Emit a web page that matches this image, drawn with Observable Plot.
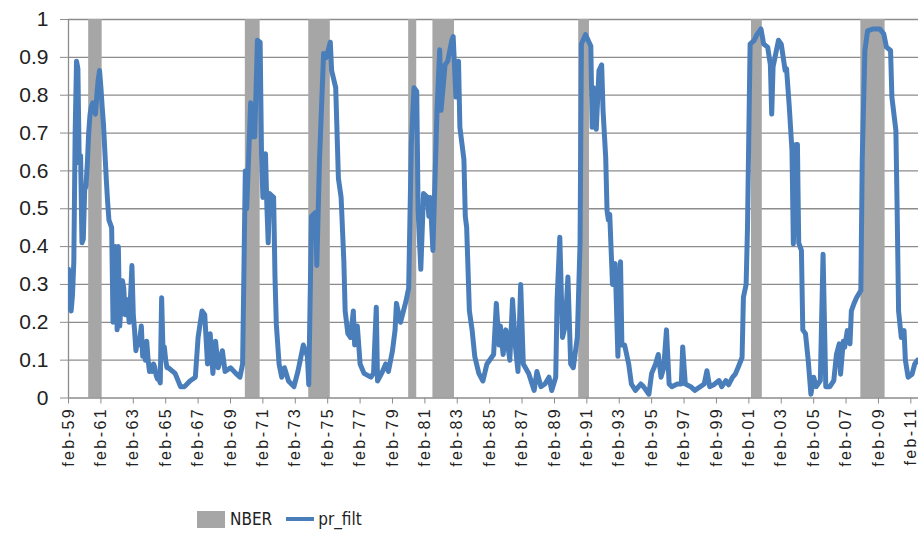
<!DOCTYPE html>
<html>
<head>
<meta charset="utf-8">
<script src="https://cdn.jsdelivr.net/npm/d3@7"></script>
<script src="https://cdn.jsdelivr.net/npm/@observablehq/plot@0.6"></script>
<style>
  body { margin: 0; background: #fff; }
  #wrap { position: relative; width: 918px; height: 538px; overflow: hidden; background: #fff;
          font-family: "Liberation Sans", Arial, sans-serif; color: #222; }
  #chart svg g[aria-label="x-axis tick label"] text { letter-spacing: 2.4px; }
  .legend { position: absolute; top: 509px; left: 197px; display: flex; align-items: center;
            font-size: 17px; font-family: "Liberation Sans Narrow", "DejaVu Sans Condensed", "Liberation Sans", sans-serif; color: #222; }
  .sw-bar { width: 28px; height: 17px; background: #a6a6a6; }
  .sw-line { width: 28px; height: 4px; background: #4a7ebb; margin-left: 14px; }
</style>
</head>
<body>
<div id="wrap">
  <div id="chart"></div>
  <div class="legend">
    <div class="sw-bar"></div><span style="margin-left:5px">NBER</span>
    <div class="sw-line"></div><span style="margin-left:4px">pr_filt</span>
  </div>
</div>
<script>
// pr_filt (monthly, values)
const prDates = [
"1959-02","1959-03","1959-04","1959-05","1959-06","1959-07","1959-08","1959-09","1959-10","1959-11","1959-12",
"1960-01","1960-02","1960-03","1960-04","1960-05","1960-06","1960-07","1960-08","1960-09","1960-10","1960-11","1960-12",
"1961-01","1961-02","1961-03","1961-04","1961-05","1961-06","1961-07","1961-08","1961-09","1961-10","1961-11","1961-12",
"1962-01","1962-02","1962-03","1962-04","1962-05","1962-06","1962-07","1962-08","1962-09","1962-10","1962-11","1962-12",
"1963-01","1963-02","1963-03","1963-04","1963-05","1963-06","1963-07","1963-08","1963-09","1963-10","1963-11","1963-12",
"1964-01","1964-02","1964-03","1964-04","1964-05","1964-06","1964-07","1964-08","1964-09","1964-10","1964-11","1964-12",
"1965-01","1965-02","1965-03","1965-04","1965-09","1966-01","1966-04","1966-08","1966-12",
"1967-02","1967-05","1967-07","1967-09","1967-11","1968-01","1968-03","1968-05","1968-08","1968-10",
"1969-02","1969-06","1969-09","1969-11","1970-01","1970-02","1970-05","1970-06","1970-08","1970-10","1970-12",
"1971-01","1971-02","1971-04","1971-05","1971-06","1971-07","1971-10","1971-11","1971-12",
"1972-02","1972-04","1972-06","1972-09","1973-01","1973-04","1973-08","1973-11","1973-12",
"1974-02","1974-05","1974-06","1974-08","1974-11","1975-01","1975-04","1975-05","1975-08","1975-10","1975-12",
"1976-02","1976-03","1976-05","1976-07","1976-09","1976-10","1976-12","1977-02","1977-05","1977-10","1977-12",
"1978-02","1978-03","1978-06","1978-09","1978-11","1979-02","1979-04","1979-05","1979-08","1979-12",
"1980-02","1980-04","1980-06","1980-08","1980-09","1980-11","1981-01","1981-04","1981-05","1981-06","1981-08","1981-11",
"1982-01","1982-02","1982-05","1982-07","1982-10","1982-11","1983-01","1983-03","1983-04","1983-07","1983-08","1983-09","1983-11",
"1984-01","1984-03","1984-06","1984-09","1984-12","1985-05","1985-07","1985-09","1985-10","1985-12",
"1986-02","1986-05","1986-07","1986-09","1986-11","1987-01","1987-03","1987-07","1987-11",
"1988-01","1988-04","1988-07","1988-10","1988-12","1989-03","1989-04","1989-06","1989-08","1989-10","1989-12",
"1990-02","1990-04","1990-07","1990-09","1990-10","1991-01","1991-05","1991-06","1991-07","1991-09","1991-11",
"1992-01","1992-02","1992-04","1992-05","1992-06","1992-07","1992-09","1992-11","1993-01","1993-03","1993-04","1993-06","1993-09","1993-11",
"1994-02","1994-06","1994-08","1994-12","1995-02","1995-05","1995-07","1995-09","1995-11",
"1996-01","1996-03","1996-05","1996-09","1996-12","1997-01","1997-03","1997-07","1997-10",
"1998-05","1998-07","1998-09","1998-12","1999-04","1999-06","1999-09","1999-11",
"2000-02","2000-04","2000-06","2000-09","2000-10","2000-12","2001-01","2001-03","2001-06","2001-08","2001-11",
"2002-01","2002-04","2002-06","2002-07","2002-08","2002-10","2002-12","2003-02","2003-05","2003-06","2003-08","2003-10","2003-11",
"2004-01","2004-02","2004-03","2004-05","2004-06","2004-08","2004-10","2004-12","2005-02","2005-04","2005-07","2005-09","2005-11",
"2006-02","2006-05","2006-07","2006-09","2006-10","2006-12","2007-01","2007-03","2007-05","2007-06","2007-08","2007-10",
"2008-01","2008-02","2008-04","2008-06","2008-10","2009-03","2009-06","2009-08","2009-11","2009-12",
"2010-03","2010-04","2010-05","2010-07","2010-09","2010-10","2010-12","2011-03","2011-05","2011-07"
];
const prValues = [
0.34,0.24,0.23,0.27,0.36,0.70,0.89,0.87,0.62,0.64,0.41,
0.42,0.55,0.56,0.62,0.70,0.75,0.77,0.78,0.76,0.75,0.80,0.84,
0.865,0.82,0.77,0.72,0.65,0.58,0.52,0.47,0.46,0.45,0.20,0.38,
0.40,0.18,0.40,0.19,0.25,0.31,0.29,0.22,0.26,0.24,0.20,0.27,
0.35,0.22,0.18,0.125,0.15,0.14,0.16,0.19,0.11,0.13,0.10,0.15,
0.10,0.07,0.08,0.07,0.09,0.08,0.06,0.05,0.05,0.04,0.265,0.13,
0.135,0.10,0.08,0.08,0.065,0.03,0.03,0.045,0.055,
0.16,0.23,0.22,0.09,0.17,0.065,0.15,0.08,0.125,0.07,
0.08,0.065,0.055,0.09,0.60,0.50,0.78,0.69,0.69,0.945,0.94,
0.645,0.53,0.645,0.51,0.41,0.54,0.53,0.32,0.195,
0.09,0.055,0.08,0.045,0.03,0.07,0.14,0.11,0.035,
0.48,0.49,0.35,0.63,0.91,0.90,0.94,0.865,0.82,0.58,0.53,
0.36,0.23,0.17,0.16,0.23,0.14,0.19,0.09,0.065,0.055,0.065,
0.24,0.045,0.065,0.09,0.07,0.125,0.18,0.25,0.20,0.255,
0.29,0.67,0.82,0.81,0.495,0.34,0.54,0.53,0.48,0.53,0.39,0.76,
0.92,0.76,0.88,0.89,0.945,0.955,0.795,0.89,0.715,0.63,0.48,0.45,0.23,
0.18,0.11,0.065,0.045,0.09,0.115,0.25,0.14,0.19,0.115,
0.18,0.10,0.26,0.14,0.07,0.30,0.09,0.065,0.02,
0.07,0.03,0.037,0.055,0.02,0.055,0.26,0.425,0.16,0.19,0.32,
0.09,0.08,0.16,0.41,0.935,0.96,0.93,0.715,0.82,0.71,0.865,
0.88,0.76,0.635,0.495,0.47,0.485,0.30,0.355,0.11,0.36,0.14,0.14,0.09,0.037,
0.02,0.037,0.03,0.01,0.065,0.09,0.115,0.055,0.08,
0.18,0.037,0.03,0.037,0.037,0.135,0.037,0.03,0.02,
0.037,0.072,0.03,0.035,0.046,0.03,0.046,0.035,
0.055,0.063,0.08,0.107,0.266,0.30,0.45,0.935,0.945,0.96,0.975,
0.935,0.927,0.88,0.75,0.875,0.91,0.945,0.935,0.865,0.87,0.77,0.654,0.407,
0.67,0.67,0.41,0.39,0.18,0.17,0.10,0.01,0.055,0.03,0.046,0.38,0.03,
0.03,0.046,0.116,0.143,0.063,0.15,0.134,0.178,0.143,0.23,0.25,0.266,
0.284,0.627,0.918,0.97,0.975,0.975,0.962,0.927,0.918,0.795,
0.707,0.478,0.23,0.16,0.178,0.10,0.055,0.063,0.09,0.10
];

// NBER recession months (first and last month in recession)
const nberStart = ["1960-05","1970-01","1973-12","1980-02","1981-08","1990-08","2001-04","2008-01"];
const nberEnd   = ["1961-02","1970-11","1975-03","1980-07","1982-11","1991-03","2001-11","2009-06"];

// axes
const yTicks = [0, 0.1, 0.2, 0.3, 0.4, 0.5, 0.6, 0.7, 0.8, 0.9, 1];
const xTickYears = [1959,1961,1963,1965,1967,1969,1971,1973,1975,1977,1979,1981,1983,1985,
                    1987,1989,1991,1993,1995,1997,1999,2001,2003,2005,2007,2009,2011];

const parseM = d3.utcParse("%Y-%m");
const series = prDates.map((d, i) => ({date: parseM(d), value: prValues[i]}));
const recessions = nberStart.map((s, i) => ({start: parseM(s), end: d3.utcMonth.offset(parseM(nberEnd[i]), 1)}));
const xTicks = xTickYears.map(y => new Date(Date.UTC(y, 1, 1)));
const xStart = new Date(Date.UTC(1959, 1, 1));
const xEnd = new Date(Date.UTC(2011, 6, 24));
const grid = "#8c8c8c";

const chart = Plot.plot({
  width: 918,
  height: 490,
  marginLeft: 68,
  marginRight: 0,
  marginTop: 19,
  marginBottom: 92.5,
  style: {fontFamily: '"Liberation Sans", Arial, sans-serif', color: "#222", background: "white"},
  x: {type: "utc", domain: [xStart, xEnd]},
  y: {domain: [0, 1]},
  marks: [
    Plot.gridY(yTicks.slice(1), {stroke: grid, strokeOpacity: 1, strokeWidth: 1.3}),
    Plot.rect(recessions, {x1: "start", x2: "end", y1: 0, y2: 1, fill: "#a6a6a6"}),
    Plot.ruleY([0], {stroke: grid, strokeWidth: 1.3}),
    Plot.ruleX([xStart], {stroke: grid, strokeWidth: 1.3}),
    Plot.line(series, {x: "date", y: "value", stroke: "#4a7ebb", strokeWidth: 5, clip: true}),
    Plot.axisY({ticks: yTicks, tickFormat: d => String(d), tickSize: 8, tickPadding: 12,
                fontSize: 21, stroke: grid, fill: "#222", label: null}),
    Plot.axisX({ticks: xTicks, tickFormat: d => "feb-" + String(d.getUTCFullYear()).slice(2),
                tickRotate: -90, tickSize: 6, tickPadding: 3, fontSize: 16,
                stroke: grid, fill: "#222", label: null})
  ]
});
document.getElementById("chart").appendChild(chart);
</script>
</body>
</html>
